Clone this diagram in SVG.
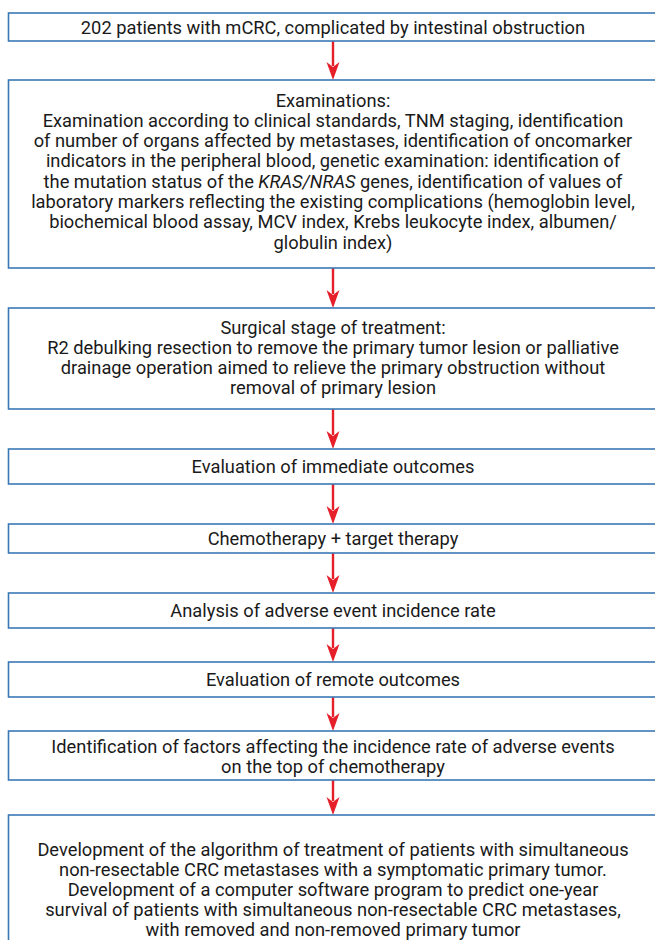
<svg xmlns="http://www.w3.org/2000/svg" width="655" height="940" viewBox="0 0 655 940">
  <style>
    .box { fill: #ffffff; stroke: #3a78b5; stroke-width: 1.6; }
    .t { font-family: Roboto, "Noto Sans", "Liberation Sans", sans-serif; font-size: 18.3px; fill: #1a1a1a; text-anchor: middle; }
    .arr { stroke: #e5202a; stroke-width: 2.4; fill: none; }
    .head { fill: #e5202a; stroke: none; }
  </style>
  <rect x="0" y="0" width="655" height="940" fill="#ffffff"/>
  <g id="connectors">
    <g id="a1"><line class="arr" x1="333" y1="41" x2="333" y2="66"/><path class="head" d="M333,80 L326.5,62 L333,67 L339.5,62 Z"/></g>
    <g id="a2"><line class="arr" x1="333" y1="268" x2="333" y2="294"/><path class="head" d="M333,308 L326.5,290 L333,295 L339.5,290 Z"/></g>
    <g id="a3"><line class="arr" x1="333" y1="409" x2="333" y2="435"/><path class="head" d="M333,449 L326.5,431 L333,436 L339.5,431 Z"/></g>
    <g id="a4"><line class="arr" x1="333" y1="484" x2="333" y2="510"/><path class="head" d="M333,524 L326.5,506 L333,511 L339.5,506 Z"/></g>
    <g id="a5"><line class="arr" x1="333" y1="553" x2="333" y2="579"/><path class="head" d="M333,593 L326.5,575 L333,580 L339.5,575 Z"/></g>
    <g id="a6"><line class="arr" x1="333" y1="628" x2="333" y2="648"/><path class="head" d="M333,662 L326.5,644 L333,649 L339.5,644 Z"/></g>
    <g id="a7"><line class="arr" x1="333" y1="697" x2="333" y2="717"/><path class="head" d="M333,731 L326.5,713 L333,718 L339.5,713 Z"/></g>
    <g id="a8"><line class="arr" x1="333" y1="780" x2="333" y2="801"/><path class="head" d="M333,815 L326.5,797 L333,802 L339.5,797 Z"/></g>
  </g>
  <g id="n1">
    <rect class="box" x="8.5" y="13" width="660" height="28"/>
    <text class="t" x="333" y="33.5">202 patients with mCRC, complicated by intestinal obstruction</text>
  </g>
  <g id="n2">
    <rect class="box" x="8.5" y="80" width="660" height="188"/>
    <text class="t" x="333" y="106.5">Examinations:</text>
    <text class="t" x="333" y="126.8">Examination according to clinical standards, TNM staging, identification</text>
    <text class="t" x="333" y="147.1">of number of organs affected by metastases, identification of oncomarker</text>
    <text class="t" x="333" y="167.4">indicators in the peripheral blood, genetic examination: identification of</text>
    <text class="t" x="333" y="187.7">the mutation status of the <tspan font-style="italic">KRAS/NRAS</tspan> genes, identification of values of</text>
    <text class="t" x="333" y="208">laboratory markers reflecting the existing complications (hemoglobin level,</text>
    <text class="t" x="333" y="228.3">biochemical blood assay, MCV index, Krebs leukocyte index, albumen/</text>
    <text class="t" x="333" y="248.6">globulin index)</text>
  </g>
  <g id="n3">
    <rect class="box" x="8.5" y="308" width="660" height="101"/>
    <text class="t" x="333" y="333.5">Surgical stage of treatment:</text>
    <text class="t" x="333" y="353.8">R2 debulking resection to remove the primary tumor lesion or palliative</text>
    <text class="t" x="333" y="374.1">drainage operation aimed to relieve the primary obstruction without</text>
    <text class="t" x="333" y="394.4">removal of primary lesion</text>
  </g>
  <g id="n4">
    <rect class="box" x="8.5" y="449" width="660" height="35"/>
    <text class="t" x="333" y="473">Evaluation of immediate outcomes</text>
  </g>
  <g id="n5">
    <rect class="box" x="8.5" y="524" width="660" height="29"/>
    <text class="t" x="333" y="545">Chemotherapy + target therapy</text>
  </g>
  <g id="n6">
    <rect class="box" x="8.5" y="593" width="660" height="35"/>
    <text class="t" x="333" y="617">Analysis of adverse event incidence rate</text>
  </g>
  <g id="n7">
    <rect class="box" x="8.5" y="662" width="660" height="35"/>
    <text class="t" x="333" y="686">Evaluation of remote outcomes</text>
  </g>
  <g id="n8">
    <rect class="box" x="8.5" y="731" width="660" height="49"/>
    <text class="t" x="333" y="752.5">Identification of factors affecting the incidence rate of adverse events</text>
    <text class="t" x="333" y="772.8">on the top of chemotherapy</text>
  </g>
  <g id="n9">
    <rect class="box" x="8.5" y="815" width="660" height="140"/>
    <text class="t" x="333" y="856">Development of the algorithm of treatment of patients with simultaneous</text>
    <text class="t" x="333" y="876">non-resectable CRC metastases with a symptomatic primary tumor.</text>
    <text class="t" x="333" y="896">Development of a computer software program to predict one-year</text>
    <text class="t" x="333" y="916">survival of patients with simultaneous non-resectable CRC metastases,</text>
    <text class="t" x="333" y="935.5">with removed and non-removed primary tumor</text>
  </g>
</svg>
